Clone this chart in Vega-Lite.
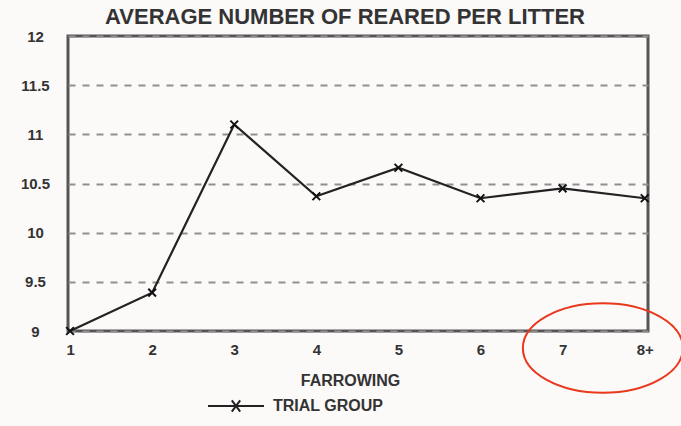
{
  "$schema": "https://vega.github.io/schema/vega-lite/v6.json",
  "autosize": "none",
  "width": 580,
  "height": 295,
  "padding": {"left": 68, "top": 36, "right": 33, "bottom": 95},
  "background": "#fcf9f9",
  "title": {
    "text": "AVERAGE NUMBER OF REARED PER LITTER",
    "anchor": "middle",
    "offset": 0,
    "dx": -13,
    "font": "'Liberation Sans Narrow', 'Liberation Sans', sans-serif",
    "fontSize": 22,
    "fontWeight": "bold",
    "color": "#333"
  },
  "config": {
    "view": {"stroke": "#555", "strokeWidth": 3},
    "font": "'Liberation Sans Narrow', 'Liberation Sans', sans-serif"
  },
  "datasets": {
    "series": [
      {"farrowing": 1, "reared": 9.0, "group": "TRIAL GROUP"},
      {"farrowing": 2, "reared": 9.39, "group": "TRIAL GROUP"},
      {"farrowing": 3, "reared": 11.1, "group": "TRIAL GROUP"},
      {"farrowing": 4, "reared": 10.37, "group": "TRIAL GROUP"},
      {"farrowing": 5, "reared": 10.66, "group": "TRIAL GROUP"},
      {"farrowing": 6, "reared": 10.35, "group": "TRIAL GROUP"},
      {"farrowing": 7, "reared": 10.45, "group": "TRIAL GROUP"},
      {"farrowing": 8, "reared": 10.35, "group": "TRIAL GROUP"}
    ],
    "annotation": [
      {"farrowing": 7.49, "reared": 8.827}
    ]
  },
  "layer": [
    {
      "data": {"name": "series"},
      "mark": {"type": "line", "strokeWidth": 2.2},
      "encoding": {
        "x": {
          "field": "farrowing",
          "type": "quantitative",
          "scale": {"domain": [0.975, 8.04], "nice": false, "zero": false},
          "axis": {
            "values": [1, 2, 3, 4, 5, 6, 7, 8],
            "labelExpr": "datum.value == 8 ? '8+' : format(datum.value, 'd')",
            "domain": false,
            "ticks": false,
            "grid": false,
            "labelPadding": 11,
            "labelFontSize": 15,
            "labelFontWeight": "bold",
            "labelColor": "#333",
            "title": "FARROWING",
            "titleFontSize": 16,
            "titleFontWeight": "bold",
            "titleColor": "#333",
            "titlePadding": 15,
            "titleX": 282
          }
        },
        "y": {
          "field": "reared",
          "type": "quantitative",
          "scale": {"domain": [9, 12], "nice": false, "zero": false},
          "axis": {
            "values": [9, 9.5, 10, 10.5, 11, 11.5, 12],
            "format": "~g",
            "domain": false,
            "ticks": false,
            "grid": true,
            "gridDash": [7, 7],
            "gridColor": "#8f8f8f",
            "gridWidth": 2,
            "labelAlign": "center",
            "labelPadding": 33,
            "labelFontSize": 15,
            "labelFontWeight": "bold",
            "labelColor": "#333",
            "title": null
          }
        },
        "color": {
          "field": "group",
          "type": "nominal",
          "scale": {"range": ["#222"]},
          "legend": {
            "title": null,
            "orient": "none",
            "legendX": 139,
            "legendY": 341,
            "symbolType": "M-1,0H1M-0.15,-0.2L0.15,0.2M-0.15,0.2L0.15,-0.2",
            "symbolSize": 3136,
            "symbolStrokeWidth": 2,
            "symbolStrokeColor": "#222",
            "labelFontSize": 16,
            "labelFontWeight": "bold",
            "labelColor": "#333",
            "labelOffset": 8
          }
        }
      }
    },
    {
      "data": {"name": "series"},
      "mark": {
        "type": "point",
        "shape": "M-1,-1L1,1M-1,1L1,-1",
        "filled": false,
        "size": 60,
        "strokeWidth": 2,
        "color": "#111",
        "opacity": 1
      },
      "encoding": {
        "x": {"field": "farrowing", "type": "quantitative"},
        "y": {"field": "reared", "type": "quantitative"}
      }
    },
    {
      "data": {"name": "annotation"},
      "mark": {
        "type": "point",
        "shape": "M-1,0A1,0.56,0,1,0,1,0A1,0.56,0,1,0,-1,0Z",
        "filled": false,
        "size": 25600,
        "strokeWidth": 2,
        "color": "#e8391d",
        "opacity": 1,
        "clip": false
      },
      "encoding": {
        "x": {"field": "farrowing", "type": "quantitative"},
        "y": {"field": "reared", "type": "quantitative"}
      }
    }
  ]
}
